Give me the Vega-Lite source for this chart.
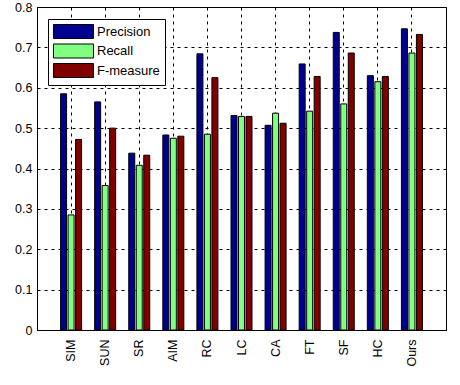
{
  "$schema": "https://vega.github.io/schema/vega-lite/v6.json",
  "autosize": "none",
  "width": 409,
  "height": 323,
  "padding": {"left": 37, "top": 7, "right": 14, "bottom": 55},
  "background": "white",
  "data": {
    "values": [
      {"method": "SIM", "metric": "Precision", "value": 0.585},
      {"method": "SIM", "metric": "Recall", "value": 0.285},
      {"method": "SIM", "metric": "F-measure", "value": 0.472},
      {"method": "SUN", "metric": "Precision", "value": 0.565},
      {"method": "SUN", "metric": "Recall", "value": 0.358},
      {"method": "SUN", "metric": "F-measure", "value": 0.5},
      {"method": "SR", "metric": "Precision", "value": 0.438},
      {"method": "SR", "metric": "Recall", "value": 0.408},
      {"method": "SR", "metric": "F-measure", "value": 0.433},
      {"method": "AIM", "metric": "Precision", "value": 0.483},
      {"method": "AIM", "metric": "Recall", "value": 0.475},
      {"method": "AIM", "metric": "F-measure", "value": 0.48},
      {"method": "RC", "metric": "Precision", "value": 0.684},
      {"method": "RC", "metric": "Recall", "value": 0.485},
      {"method": "RC", "metric": "F-measure", "value": 0.625},
      {"method": "LC", "metric": "Precision", "value": 0.531},
      {"method": "LC", "metric": "Recall", "value": 0.529},
      {"method": "LC", "metric": "F-measure", "value": 0.529},
      {"method": "CA", "metric": "Precision", "value": 0.507},
      {"method": "CA", "metric": "Recall", "value": 0.537},
      {"method": "CA", "metric": "F-measure", "value": 0.512},
      {"method": "FT", "metric": "Precision", "value": 0.659},
      {"method": "FT", "metric": "Recall", "value": 0.542},
      {"method": "FT", "metric": "F-measure", "value": 0.628},
      {"method": "SF", "metric": "Precision", "value": 0.737},
      {"method": "SF", "metric": "Recall", "value": 0.56},
      {"method": "SF", "metric": "F-measure", "value": 0.686},
      {"method": "HC", "metric": "Precision", "value": 0.63},
      {"method": "HC", "metric": "Recall", "value": 0.615},
      {"method": "HC", "metric": "F-measure", "value": 0.628},
      {"method": "Ours", "metric": "Precision", "value": 0.746},
      {"method": "Ours", "metric": "Recall", "value": 0.686},
      {"method": "Ours", "metric": "F-measure", "value": 0.732}
    ]
  },
  "mark": {"type": "bar", "stroke": "black", "strokeWidth": 1},
  "encoding": {
    "x": {
      "field": "method",
      "type": "nominal",
      "sort": null,
      "scale": {"paddingInner": 0.34, "paddingOuter": 0.67},
      "axis": {
        "title": null,
        "labelAngle": -90,
        "labelPadding": 9,
        "ticks": false,
        "grid": true,
        "gridColor": "black",
        "gridDash": [3, 4],
        "gridOpacity": 1,
        "domainColor": "black"
      }
    },
    "xOffset": {
      "field": "metric",
      "type": "nominal",
      "sort": ["Precision", "Recall", "F-measure"],
      "scale": {"paddingInner": 0.2, "paddingOuter": 0.1}
    },
    "y": {
      "field": "value",
      "type": "quantitative",
      "scale": {"domain": [0, 0.8], "nice": false},
      "axis": {
        "title": null,
        "values": [0, 0.1, 0.2, 0.3, 0.4, 0.5, 0.6, 0.7, 0.8],
        "format": "~g",
        "ticks": false,
        "labelPadding": 5,
        "grid": true,
        "gridColor": "black",
        "gridDash": [3, 4],
        "gridOpacity": 1,
        "domainColor": "black"
      }
    },
    "color": {
      "field": "metric",
      "type": "nominal",
      "sort": ["Precision", "Recall", "F-measure"],
      "scale": {
        "domain": ["Precision", "Recall", "F-measure"],
        "range": ["#00008F", "#80FF80", "#800000"]
      },
      "legend": {
        "title": null,
        "orient": "none",
        "legendX": 11,
        "legendY": 12,
        "symbolType": "M-1,-1L4.714,-1L4.714,1L-1,1Z",
        "symbolSize": 196,
        "symbolStrokeColor": "black",
        "symbolStrokeWidth": 1,
        "symbolOpacity": 1,
        "labelFontSize": 13,
        "labelFont": "Liberation Sans",
        "labelColor": "black",
        "labelOffset": 29,
        "rowPadding": 0.5,
        "padding": 5,
        "strokeColor": "black",
        "fillColor": "white"
      }
    }
  },
  "config": {
    "view": {"stroke": "black", "strokeWidth": 1},
    "axis": {
      "labelFont": "Liberation Sans",
      "labelFontSize": 12.5,
      "labelColor": "black"
    }
  }
}
